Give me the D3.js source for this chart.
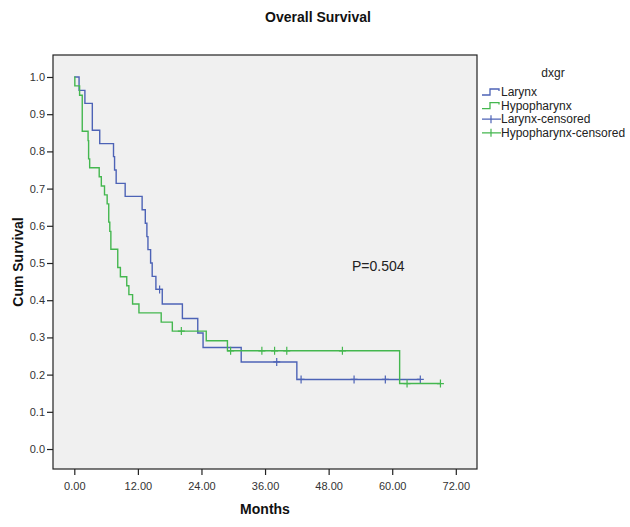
<!DOCTYPE html>
<html>
<head>
<meta charset="utf-8">
<script src="https://cdn.jsdelivr.net/npm/d3@7"></script>
<style>
  body { margin: 0; background: #fff; }
  svg { display: block; font-family: "Liberation Sans", Arial, sans-serif; }
</style>
</head>
<body>
<svg id="chart" width="630" height="527"></svg>
<script>
// ---- data ----
const groups = ["Larynx", "Hypopharynx"];
const legendLabels = ["Larynx", "Hypopharynx", "Larynx-censored", "Hypopharynx-censored"];
const xTicks = [0, 12, 24, 36, 48, 60, 72];
const yTicks = [0, 0.1, 0.2, 0.3, 0.4, 0.5, 0.6, 0.7, 0.8, 0.9, 1.0];

const larynxTimes = [0.9, 2.0, 3.4, 4.8, 7.4, 7.6, 7.9, 9.6, 12.8, 13.4, 13.7, 13.9, 14.4, 14.7, 15.4, 16.6, 20.4, 23.3, 24.3, 31.5, 42.0];
const larynxSurv  = [0.964, 0.929, 0.857, 0.821, 0.786, 0.750, 0.714, 0.679, 0.643, 0.607, 0.571, 0.536, 0.500, 0.464, 0.429, 0.390, 0.351, 0.312, 0.273, 0.234, 0.187];
const larynxCensored = [16.1, 38.2, 42.8, 52.8, 58.7, 65.3];

const hypoTimes = [0.1, 1.0, 1.5, 2.6, 2.7, 2.9, 4.7, 5.1, 5.7, 6.2, 6.5, 6.7, 6.9, 8.2, 8.7, 9.9, 10.3, 11.0, 12.2, 16.4, 18.5, 24.9, 28.9, 61.4];
const hypoSurv  = [0.976, 0.951, 0.854, 0.829, 0.780, 0.756, 0.732, 0.707, 0.683, 0.659, 0.610, 0.585, 0.537, 0.488, 0.463, 0.439, 0.415, 0.390, 0.366, 0.341, 0.317, 0.291, 0.264, 0.176];
const hypoCensored = [20.2, 29.5, 35.4, 37.8, 40.1, 50.6, 62.8, 69.1];

const pValueText = "P=0.504";

// ---- layout ----
const colors = { Larynx: "#4d63b6", Hypopharynx: "#44b74f" };
const svg = d3.select("#chart");
const frame = { left: 53, right: 477, top: 55, bottom: 469 };

const x = d3.scaleLinear().domain([-4.02, 76.0]).range([frame.left, frame.right]);
const y = d3.scaleLinear().domain([-0.0537, 1.0591]).range([frame.bottom, frame.top]);

// plot background
svg.append("rect")
  .attr("x", frame.left).attr("y", frame.top)
  .attr("width", frame.right - frame.left).attr("height", frame.bottom - frame.top)
  .attr("fill", "#f0f0f0").attr("stroke", "#222").attr("stroke-width", 1.2);

// axes
const xAxis = d3.axisBottom(x).tickValues(xTicks).tickFormat(d3.format(".2f")).tickSize(6).tickSizeOuter(0);
const yAxis = d3.axisLeft(y).tickValues(yTicks).tickFormat(d3.format(".1f")).tickSize(6).tickSizeOuter(0);

const gx = svg.append("g").attr("transform", `translate(0,${frame.bottom})`).call(xAxis);
const gy = svg.append("g").attr("transform", `translate(${frame.left},0)`).call(yAxis);
[gx, gy].forEach(g => {
  g.select(".domain").remove();
  g.selectAll(".tick line").attr("stroke", "#222").attr("stroke-width", 1.2);
  g.selectAll(".tick text").attr("fill", "#333").style("font-size", "11px").style("font-family", "'Liberation Sans', Arial, sans-serif");
});
gx.selectAll(".tick text").attr("dy", "1.05em");
gy.selectAll(".tick text").attr("x", -8);

// step function helpers
function survAt(times, surv, t) {
  let s = 1;
  for (let i = 0; i < times.length; i++) { if (times[i] <= t) s = surv[i]; }
  return s;
}
function stepPath(times, surv, censored) {
  const end = Math.max(times[times.length - 1], d3.max(censored));
  let d = `M${x(0)},${y(1)}`;
  times.forEach((t, i) => { d += `H${x(t)}V${y(surv[i])}`; });
  d += `H${x(end)}`;
  return d;
}

const series = [
  { name: "Larynx", times: larynxTimes, surv: larynxSurv, censored: larynxCensored },
  { name: "Hypopharynx", times: hypoTimes, surv: hypoSurv, censored: hypoCensored }
];

series.forEach(s => {
  svg.append("path")
    .attr("d", stepPath(s.times, s.surv, s.censored))
    .attr("fill", "none").attr("stroke", colors[s.name]).attr("stroke-width", 1.4);
  const g = svg.append("g");
  s.censored.forEach(t => {
    const cx = x(t), cy = y(survAt(s.times, s.surv, t));
    g.append("path")
      .attr("d", `M${cx - 3.5},${cy}H${cx + 3.5}M${cx},${cy - 4}V${cy + 4}`)
      .attr("stroke", colors[s.name]).attr("stroke-width", 1.2).attr("fill", "none");
  });
});

// P value
svg.append("text").attr("x", 352).attr("y", 271)
  .style("font-size", "14px").attr("fill", "#222").text(pValueText);

// titles
svg.append("text").attr("x", 318).attr("y", 22).attr("text-anchor", "middle")
  .style("font-size", "14px").style("font-weight", "bold").attr("fill", "#111").text("Overall Survival");
svg.append("text").attr("x", 265).attr("y", 514).attr("text-anchor", "middle")
  .style("font-size", "14px").style("font-weight", "bold").attr("fill", "#111").text("Months");
svg.append("text").attr("transform", "translate(23,262) rotate(-90)").attr("text-anchor", "middle")
  .style("font-size", "14px").style("font-weight", "bold").attr("fill", "#111").text("Cum Survival");

// legend
const lg = svg.append("g");
lg.append("text").attr("x", 553).attr("y", 77).attr("text-anchor", "middle")
  .style("font-size", "12px").attr("fill", "#222").text("dxgr");
const legendColors = [colors.Larynx, colors.Hypopharynx, colors.Larynx, colors.Hypopharynx];
legendLabels.forEach((lab, i) => {
  const cy = 92 + i * 13.6;
  if (i < 2) {
    lg.append("path").attr("d", `M482,${cy + 3}H490V${cy - 3}H499V${cy - 1}`)
      .attr("fill", "none").attr("stroke", legendColors[i]).attr("stroke-width", 1.3);
  } else {
    lg.append("path").attr("d", `M482,${cy}H501M491,${cy - 4}V${cy + 4}`)
      .attr("fill", "none").attr("stroke", legendColors[i]).attr("stroke-width", 1.2);
  }
  lg.append("text").attr("x", 501).attr("y", cy + 4)
    .style("font-size", "12px").attr("fill", "#222").text(lab);
});
</script>
</body>
</html>
